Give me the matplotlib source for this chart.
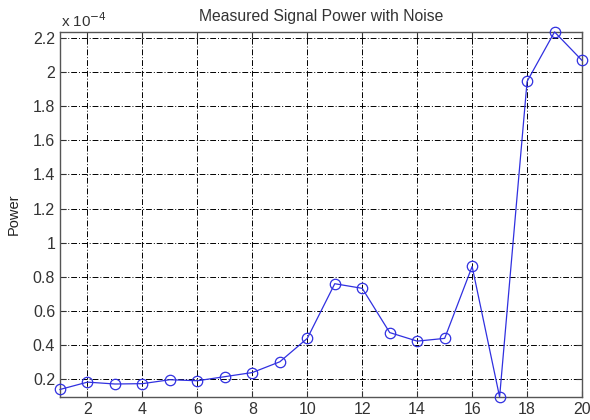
import matplotlib
matplotlib.use("Agg")
import matplotlib.pyplot as plt
from matplotlib.ticker import FuncFormatter

x = list(range(1, 21))
power = [0.141e-4, 0.184e-4, 0.173e-4, 0.175e-4, 0.198e-4, 0.192e-4, 0.216e-4,
         0.240e-4, 0.303e-4, 0.440e-4, 0.760e-4, 0.733e-4, 0.474e-4, 0.424e-4,
         0.440e-4, 0.861e-4, 0.097e-4, 1.944e-4, 2.234e-4, 2.067e-4]
xticks = [2, 4, 6, 8, 10, 12, 14, 16, 18, 20]
yticks = [0.2e-4, 0.4e-4, 0.6e-4, 0.8e-4, 1.0e-4, 1.2e-4, 1.4e-4, 1.6e-4, 1.8e-4, 2.0e-4, 2.2e-4]

plt.rcParams['font.family'] = ['Liberation Sans', 'DejaVu Sans']

fig = plt.figure(figsize=(5.9, 4.2), dpi=100)
ax = fig.add_axes([0.1017, 0.0548, 0.8848, 0.8692])

ax.plot(x, power, color='#3030e0', lw=0.9, marker='o', markersize=7.5,
        markerfacecolor='none', markeredgecolor='#3030e0', markeredgewidth=0.9,
        zorder=3, clip_on=False)

ax.set_xlim(1, 20)
ax.set_ylim(min(power), max(power))
ax.set_xticks(xticks)
ax.set_yticks(yticks)
ax.yaxis.set_major_formatter(FuncFormatter(lambda v, p: ('%g' % round(v / 1e-4, 4))))

ax.grid(True, color='black', linestyle=(0, (6, 2, 1, 2)), linewidth=0.7)
ax.tick_params(direction='in', labelsize=11.5, colors='#333333', length=4,
               top=True, right=True)
for s in ax.spines.values():
    s.set_color('#555555')
    s.set_linewidth(1.0)

ax.set_title('Measured Signal Power with Noise', fontsize=11.3, color='#333333', pad=8)
ax.set_ylabel('Power', fontsize=10.5, color='#222222', labelpad=9)
fig.text(0.103, 0.935, 'x 10$^{-4}$', fontsize=11, color='#333333')

fig.savefig('out.png', dpi=100)
